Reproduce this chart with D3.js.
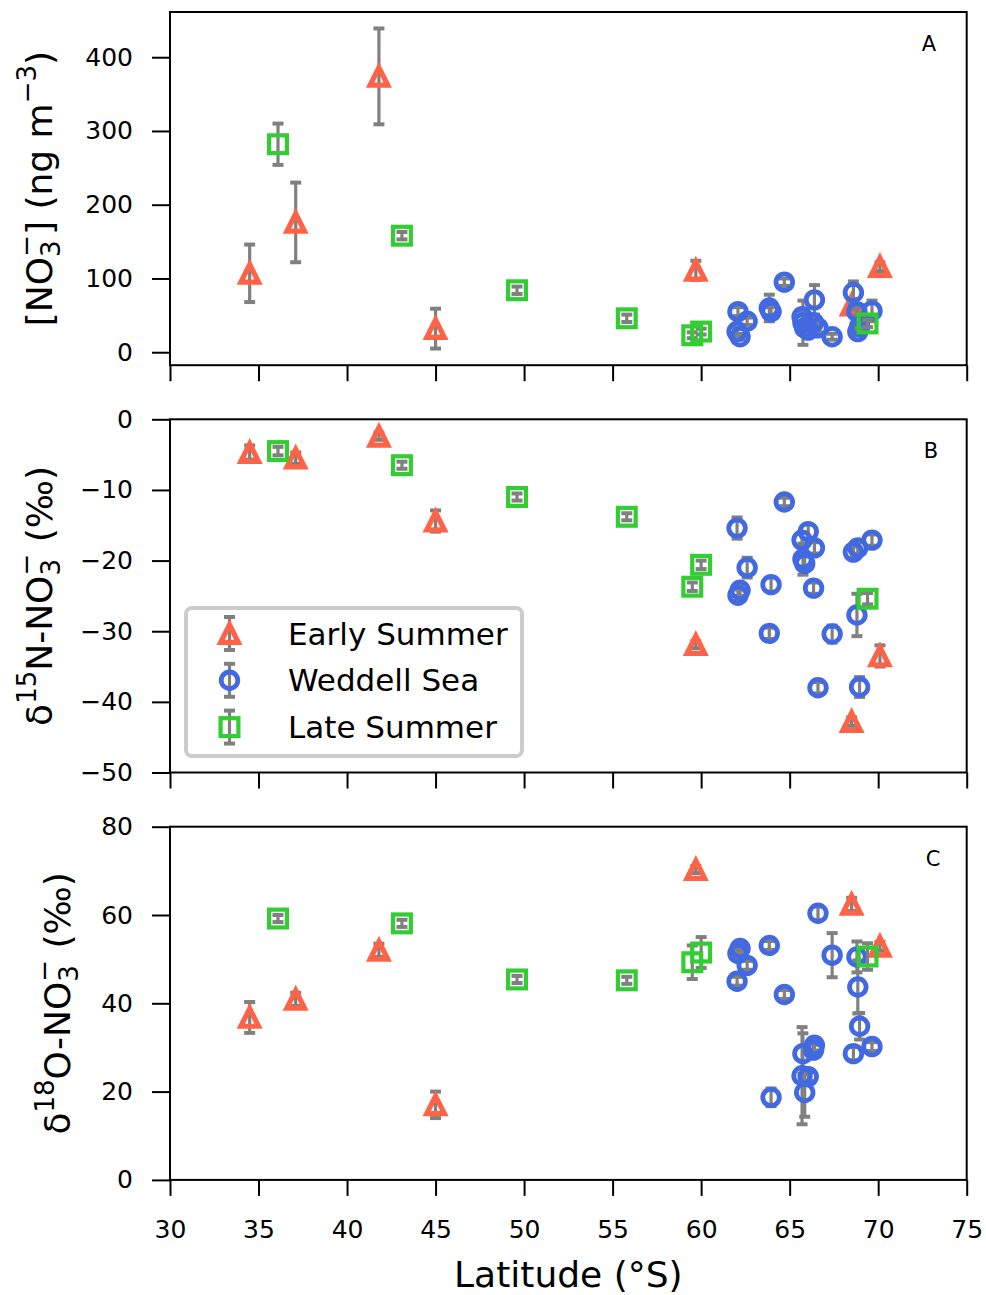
<!DOCTYPE html>
<html>
<head>
<meta charset="utf-8">
<script src="https://cdn.jsdelivr.net/npm/d3@7"></script>
<style>
  body { margin: 0; background: #fff; }
  svg { display: block; font-family: "DejaVu Sans", sans-serif; }
</style>
</head>
<body>
<div id="chart"></div>
<script>
// ---- data ----
const earlyLat    = [34.5, 37.1, 41.8, 45.0, 59.7, 68.5, 70.1];
const earlyNO3    = [107, 176, 374, 32, 111, 64, 116];
const earlyNO3Err = [39, 54, 65, 27, 13, 8, 6];
const earlyD15N    = [-4.7, -5.5, -2.4, -14.4, -31.9, -42.8, -33.5];
const earlyD15NErr = [1.0, 0.8, 0.5, 1.5, 0.5, 0.6, 1.5];
const earlyD18O    = [36.8, 40.9, 52.0, 17.0, 70.3, 62.4, 52.9];
const earlyD18OErr = [3.5, 1.5, 1.5, 3.0, 0.8, 1.5, 1.0];

const wedLat    = [62.03, 62.08, 62.2, 62.6, 63.85, 63.95, 64.7, 65.7, 65.75, 65.85, 66.05, 66.4, 66.35, 66.6, 67.4, 68.6, 68.8, 68.85, 68.95, 69.65];
const wedNO3    = [28, 55, 21, 42, 60, 55, 95, 48, 40, 33, 30, 71, 40, 33, 21, 81, 55, 28, 35, 56];
const wedNO3Err = [5, 6, 4, 5, 18, 6, 5, 8, 30, 6, 6, 20, 6, 6, 4, 15, 6, 5, 5, 14];
const wedD15N    = [-15.4, -24.9, -24.2, -21.0, -30.3, -23.4, -11.7, -17.1, -19.8, -20.4, -15.9, -18.2, -23.9, -38.0, -30.4, -18.8, -27.7, -18.2, -37.9, -17.1];
const wedD15NErr = [1.5, 0.8, 0.8, 1.4, 0.8, 1.0, 0.6, 1.0, 2.2, 1.0, 1.0, 0.8, 0.8, 0.8, 1.2, 0.8, 3.0, 0.8, 1.4, 0.8];
const wedD18O    = [45.0, 51.3, 52.4, 48.6, 53.1, 18.7, 42.0, 23.6, 28.6, 19.8, 23.4, 30.5, 29.4, 60.4, 50.9, 28.6, 50.5, 43.7, 34.8, 30.2];
const wedD18OErr = [1.0, 1.0, 1.0, 1.0, 1.0, 2.0, 1.0, 11.0, 4.6, 5.5, 1.0, 1.2, 1.2, 1.5, 5.0, 1.5, 3.5, 6.0, 3.0, 1.0];

const lateLat    = [36.1, 43.1, 49.6, 55.8, 59.5, 60.0, 69.4];
const lateNO3    = [282, 158, 84, 46, 23, 28, 39];
const lateNO3Err = [28, 5, 5, 5, 4, 4, 5];
const lateD15N    = [-4.5, -6.5, -11.0, -13.8, -23.7, -20.6, -25.4];
const lateD15NErr = [0.6, 0.5, 0.5, 0.5, 0.6, 0.6, 0.8];
const lateD18O    = [59.2, 58.1, 45.4, 45.2, 49.3, 51.5, 50.6];
const lateD18OErr = [0.8, 0.8, 0.8, 0.8, 3.8, 3.5, 3.0];

const xTicks = [30, 35, 40, 45, 50, 55, 60, 65, 70, 75];
const seriesNames = ['Early Summer', 'Weddell Sea', 'Late Summer'];

// ---- layout ----
const svgWidth = 986, svgHeight = 1295;
const padding = { left: 170, right: 19.3 };
const panelTops = [12, 419.3, 826.7];
const panelH = 353.2;
const errColor = '#808080';
const colors = ['#FF6347', '#4169E1', '#32CD32'];
const shapes = ['triangle', 'circle', 'square'];

let svg = d3.select('#chart').append('svg')
	.attr('width', svgWidth)
	.attr('height', svgHeight)

svg.append('rect').attr('width', svgWidth).attr('height', svgHeight).attr('fill', 'white')

let x = d3.scaleLinear()
	.domain([30, 75])
	.range([padding.left, svgWidth - padding.right]);

const panels = [
	{ label: 'A', domain: [-17.6, 461.3], ticks: [0, 100, 200, 300, 400], labelX: 929,
	  series: [[earlyLat, earlyNO3, earlyNO3Err], [wedLat, wedNO3, wedNO3Err], [lateLat, lateNO3, lateNO3Err]] },
	{ label: 'B', domain: [-50, 0], ticks: [-50, -40, -30, -20, -10, 0], labelX: 931,
	  series: [[earlyLat, earlyD15N, earlyD15NErr], [wedLat, wedD15N, wedD15NErr], [lateLat, lateD15N, lateD15NErr]] },
	{ label: 'C', domain: [0, 80], ticks: [0, 20, 40, 60, 80], labelX: 933,
	  series: [[earlyLat, earlyD18O, earlyD18OErr], [wedLat, wedD18O, wedD18OErr], [lateLat, lateD18O, lateD18OErr]] }
];

function drawMarker(g, shape, color, cx, cy) {
	if (shape == 'triangle') {
		const s = 8.8;
		g.append('path')
			.attr('d', `M${cx},${cy - s} L${cx + s},${cy + s} L${cx - s},${cy + s} Z`)
			.attr('fill', 'none')
			.attr('stroke', color)
			.attr('stroke-width', 5.2)
			.attr('stroke-linejoin', 'miter')
	} else if (shape == 'circle') {
		g.append('circle')
			.attr('cx', cx).attr('cy', cy).attr('r', 8.3)
			.attr('fill', 'none')
			.attr('stroke', color)
			.attr('stroke-width', 4.8)
	} else {
		const s = 8.9;
		g.append('rect')
			.attr('x', cx - s).attr('y', cy - s)
			.attr('width', 2 * s).attr('height', 2 * s)
			.attr('fill', 'none')
			.attr('stroke', color)
			.attr('stroke-width', 4.2)
	}
}

function drawErr(g, cx, y1, y2) {
	g.append('line')
		.attr('x1', cx).attr('x2', cx).attr('y1', y1).attr('y2', y2)
		.attr('stroke', errColor).attr('stroke-width', 3.2)
	;[y1, y2].forEach(yy => {
		g.append('line')
			.attr('x1', cx - 5.5).attr('x2', cx + 5.5).attr('y1', yy).attr('y2', yy)
			.attr('stroke', errColor).attr('stroke-width', 4)
	})
}

panels.forEach((p, pi) => {
	const top = panelTops[pi];
	const bottom = top + panelH;
	let y = d3.scaleLinear().domain(p.domain).range([bottom, top]);

	let axes = svg.append('g').classed('axes', true)

	// y axis
	let axis_y = d3.axisLeft(y)
		.tickValues(p.ticks)
		.tickSize(18)
		.tickPadding(19)
		.tickFormat(d3.format('d'));
	let gy = axes.append('g')
		.attr('transform', `translate(${padding.left}, 0)`)
		.call(axis_y)
	gy.select('.domain').remove()
	gy.selectAll('line').attr('stroke', 'black').attr('stroke-width', 2)
	gy.selectAll('text')
		.attr('fill', 'black')
		.style('font-size', '25px')
		.style('font-family', '"DejaVu Sans", sans-serif')

	// x axis
	let axis_x = d3.axisBottom(x)
		.tickValues(xTicks)
		.tickSize(16)
		.tickPadding(24)
		.tickFormat(pi == 2 ? d3.format('d') : () => '');
	let gx = axes.append('g')
		.attr('transform', `translate(0, ${bottom})`)
		.call(axis_x)
	gx.select('.domain').remove()
	gx.selectAll('line').attr('stroke', 'black').attr('stroke-width', 2)
	gx.selectAll('text')
		.attr('fill', 'black')
		.style('font-size', '25px')
		.style('font-family', '"DejaVu Sans", sans-serif')

	// data
	let body = svg.append('g').classed('body', true)
	p.series.forEach((s, si) => {
		const [lat, val, err] = s;
		let gs = body.append('g').attr('class', 'series-' + si)
		lat.forEach((d, i) => {
			drawErr(gs, x(d), y(val[i] + err[i]), y(val[i] - err[i]));
		})
		lat.forEach((d, i) => {
			drawMarker(gs, shapes[si], colors[si], x(d), y(val[i]));
		})
	})

	// frame
	svg.append('rect')
		.attr('x', padding.left)
		.attr('y', top)
		.attr('width', svgWidth - padding.right - padding.left)
		.attr('height', panelH)
		.attr('fill', 'none')
		.attr('stroke', 'black')
		.attr('stroke-width', 2)

	svg.append('text')
		.attr('x', p.labelX)
		.attr('y', top + 39)
		.attr('text-anchor', 'middle')
		.attr('font-size', '21px')
		.attr('fill', 'black')
		.text(p.label)
});

// ---- y-axis labels ----
function yLabel(cx, cy) {
	return svg.append('text')
		.attr('transform', `translate(${cx}, ${cy}) rotate(-90)`)
		.attr('text-anchor', 'middle')
		.attr('font-size', '36px')
		.attr('fill', 'black')
}
let la = yLabel(52, panelTops[0] + panelH / 2)
la.append('tspan').text('[NO')
la.append('tspan').attr('font-size', '26px').attr('dy', 8).text('3')
la.append('tspan').attr('font-size', '26px').attr('dx', -16.5).attr('dy', -25).text('−')
la.append('tspan').attr('dy', 17).text('] (ng m')
la.append('tspan').attr('font-size', '26px').attr('dy', -16).text('−3')
la.append('tspan').attr('dy', 16).text(')')

function deltaLabel(cx, cy, iso, el) {
	let l = yLabel(cx, cy)
	l.append('tspan').text('δ')
	l.append('tspan').attr('font-size', '26px').attr('dy', -16).text(iso)
	l.append('tspan').attr('dy', 16).text(el + '-NO')
	l.append('tspan').attr('font-size', '26px').attr('dy', 8).text('3')
	l.append('tspan').attr('font-size', '26px').attr('dx', -16.5).attr('dy', -25).text('−')
	l.append('tspan').attr('dy', 17).text(' (‰)')
}
deltaLabel(52, panelTops[1] + panelH / 2, '15', 'N')
deltaLabel(70, panelTops[2] + panelH / 2, '18', 'O')

svg.append('text')
	.attr('x', (padding.left + svgWidth - padding.right) / 2)
	.attr('y', 1287)
	.attr('text-anchor', 'middle')
	.attr('font-size', '36px')
	.attr('fill', 'black')
	.text('Latitude (°S)')

// ---- legend ----
let legend = svg.append('g').attr('class', 'legend')
legend.append('rect')
	.attr('x', 186).attr('y', 608)
	.attr('width', 336).attr('height', 148)
	.attr('rx', 6)
	.attr('fill', 'white').attr('fill-opacity', 0.8)
	.attr('stroke', '#cccccc').attr('stroke-width', 4)

seriesNames.forEach((name, i) => {
	const ly = 633.5 + i * 46.8;
	drawErr(legend, 229.5, ly - 16.5, ly + 16.5);
	drawMarker(legend, shapes[i], colors[i], 229.5, ly);
	legend.append('text')
		.attr('x', 288)
		.attr('y', ly + 11)
		.attr('font-size', '31px')
		.attr('fill', 'black')
		.text(name)
})
</script>
</body>
</html>
